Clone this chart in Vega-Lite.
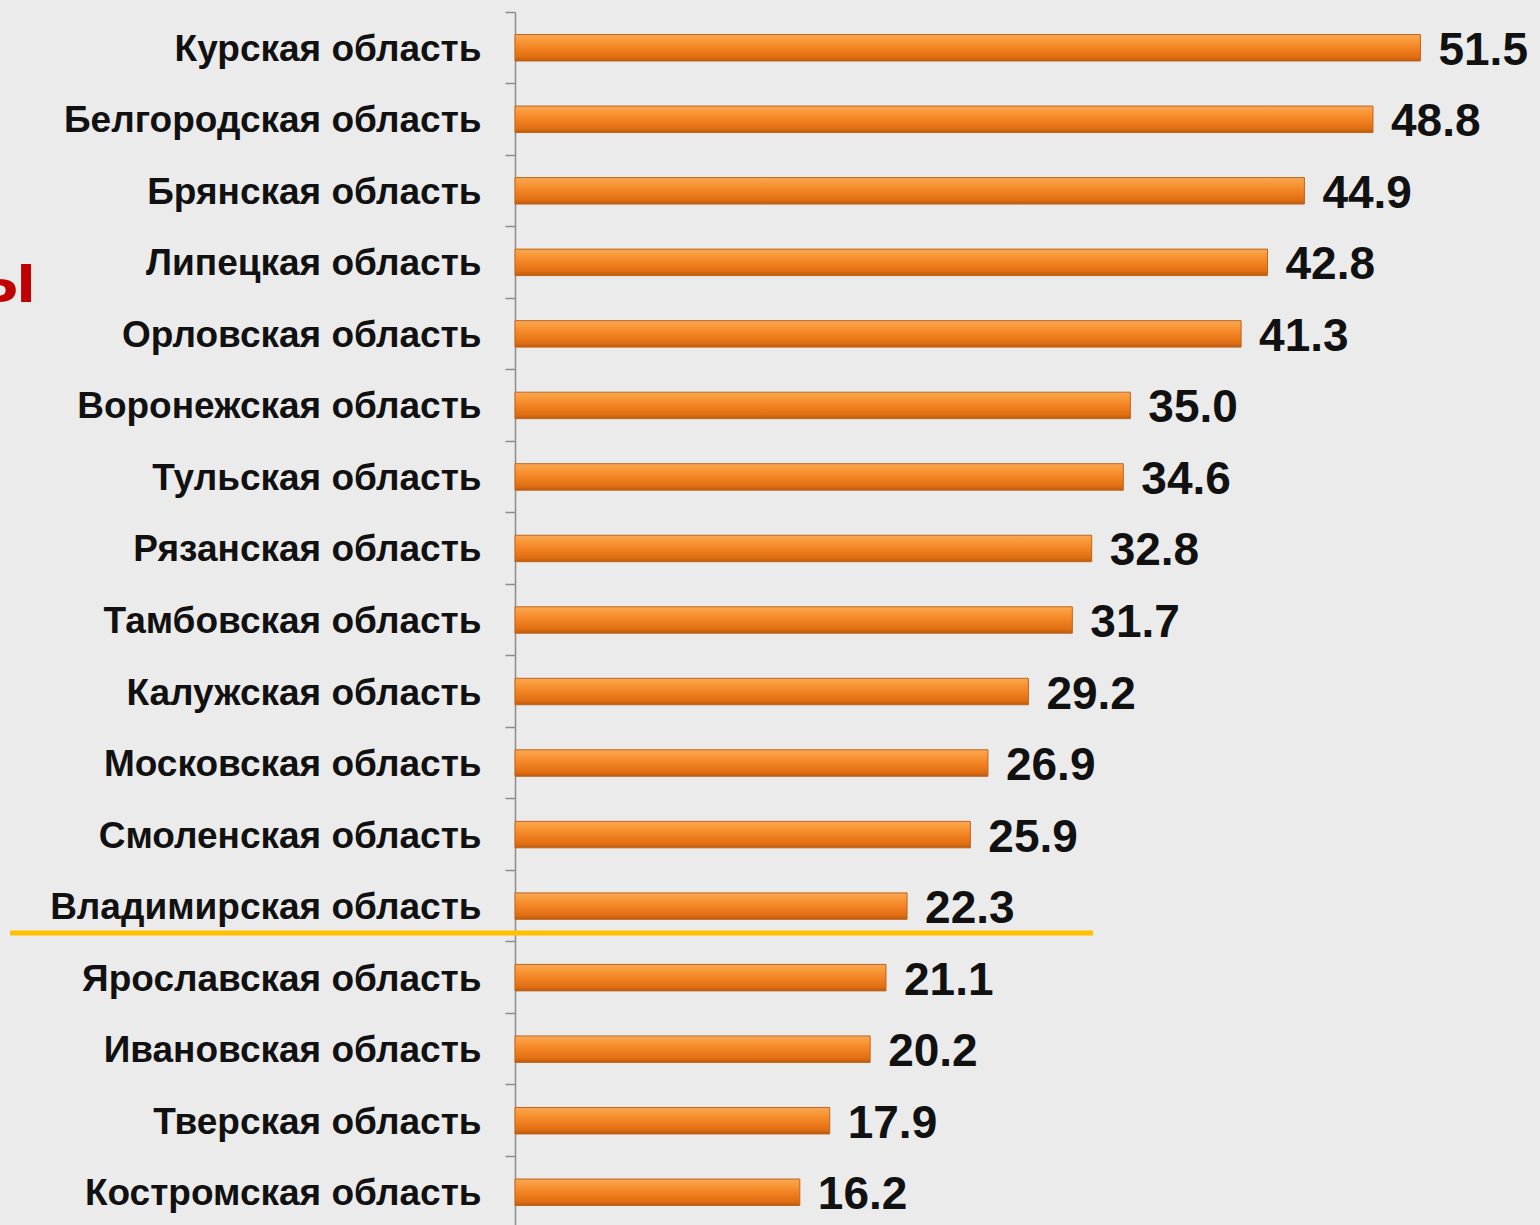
{
  "$schema": "https://vega.github.io/schema/vega-lite/v6.json",
  "autosize": {"type": "none"},
  "width": 1025,
  "height": 1216,
  "padding": {"left": 515, "top": 12, "right": 0, "bottom": 0},
  "background": "#EBEBEB",
  "config": {"view": {"stroke": null}, "font": "Liberation Sans"},
  "layer": [
    {
      "data": {"values": [
        {"region": "Курская область", "value": 51.5},
        {"region": "Белгородская область", "value": 48.8},
        {"region": "Брянская область", "value": 44.9},
        {"region": "Липецкая область", "value": 42.8},
        {"region": "Орловская область", "value": 41.3},
        {"region": "Воронежская область", "value": 35.0},
        {"region": "Тульская область", "value": 34.6},
        {"region": "Рязанская область", "value": 32.8},
        {"region": "Тамбовская область", "value": 31.7},
        {"region": "Калужская область", "value": 29.2},
        {"region": "Московская область", "value": 26.9},
        {"region": "Смоленская область", "value": 25.9},
        {"region": "Владимирская область", "value": 22.3},
        {"region": "Ярославская область", "value": 21.1},
        {"region": "Ивановская область", "value": 20.2},
        {"region": "Тверская область", "value": 17.9},
        {"region": "Костромская область", "value": 16.2}
      ]},
      "encoding": {
        "y": {
          "field": "region", "type": "nominal", "sort": null,
          "scale": {"paddingInner": 0, "paddingOuter": 0, "domain": ["Курская область", "Белгородская область", "Брянская область", "Липецкая область", "Орловская область", "Воронежская область", "Тульская область", "Рязанская область", "Тамбовская область", "Калужская область", "Московская область", "Смоленская область", "Владимирская область", "Ярославская область", "Ивановская область", "Тверская область", "Костромская область"]},
          "axis": {
            "title": null, "bandPosition": 0, "tickSize": 10, "tickColor": "#8C8C8C",
            "tickWidth": 1.5, "domainColor": "#8C8C8C", "domainWidth": 1.5,
            "labelFontSize": 37, "labelFontWeight": "bold", "labelColor": "#111111",
            "labelPadding": 24, "labelFont": "Liberation Sans", "labelLimit": 600, "labelOffset": 2
          }
        },
        "x": {
          "field": "value", "type": "quantitative",
          "scale": {"domain": [0, 58.3], "nice": false, "zero": true},
          "axis": null
        }
      },
      "layer": [
        {
          "mark": {
            "type": "bar", "height": {"band": 0.37},
            "color": {
              "gradient": "linear", "x1": 0, "y1": 0, "x2": 0, "y2": 1,
              "stops": [
                {"offset": 0, "color": "#F7A85A"},
                {"offset": 0.2, "color": "#FA9A3A"},
                {"offset": 0.55, "color": "#F08020"},
                {"offset": 0.85, "color": "#E06E12"},
                {"offset": 1, "color": "#B85A0E"}
              ]
            },
            "stroke": "#C0651A", "strokeWidth": 1
          }
        },
        {
          "mark": {
            "type": "text", "align": "left", "baseline": "middle", "dx": 18, "dy": 3,
            "fontSize": 46, "fontWeight": "bold", "color": "#111111", "font": "Liberation Sans"
          },
          "encoding": {"text": {"field": "value", "type": "quantitative", "format": ".1f"}}
        }
      ]
    },
    {
      "data": {"values": [{"region": "Владимирская область", "x1": -28.72, "x2": 32.88}]},
      "mark": {"type": "rule", "color": "#FFC000", "strokeWidth": 5},
      "encoding": {
        "y": {"field": "region", "type": "nominal", "bandPosition": 0.875},
        "x": {"field": "x1", "type": "quantitative"},
        "x2": {"field": "x2"}
      }
    },
    {
      "data": {"values": [{"region": "Липецкая область", "x": -27.25, "t": "ы"}]},
      "mark": {"type": "text", "align": "right", "baseline": "alphabetic", "dy": 40, "fontSize": 72, "fontWeight": "bold", "color": "#C00000", "font": "Liberation Sans"},
      "encoding": {
        "y": {"field": "region", "type": "nominal"},
        "x": {"field": "x", "type": "quantitative"},
        "text": {"field": "t"}
      }
    }
  ]
}
